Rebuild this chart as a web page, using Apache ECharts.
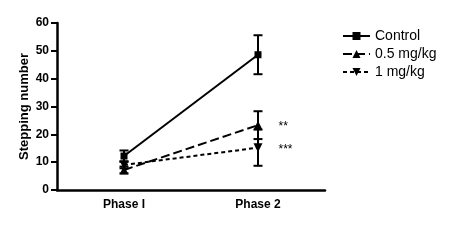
<!DOCTYPE html>
<html><head><meta charset="utf-8">
<script src="https://cdn.jsdelivr.net/npm/echarts@6/dist/echarts.min.js"></script>
<style>html,body{margin:0;padding:0;background:#fff}#c{width:450px;height:244px}</style>
</head><body><div id="c"></div>
<script>
const categories = ['Phase I', 'Phase 2'];
const controlMean = [12.2, 48.6];
const controlErr = [2.0, 7.0];
const lowMean = [7.2, 23.3];
const lowErr = [1.2, 5.0];
const highMean = [9.0, 15.2];
const highErr = [1.2, 6.5];
const yTicks = [0, 10, 20, 30, 40, 50, 60];
const sig = ['', '', '**', '***'];

const chart = echarts.init(document.getElementById('c'));
const font = 'Liberation Sans, Arial, sans-serif';

function errSeries(name, mean, err) {
  return {
    type: 'custom', name: name + ' err', silent: true, z: 1,
    data: mean.map((m, i) => [i, m - err[i], m + err[i]]),
    renderItem: function (params, api) {
      const lo = api.coord([api.value(0), api.value(1)]);
      const hi = api.coord([api.value(0), api.value(2)]);
      const w = 4.5;
      const st = { stroke: '#000', lineWidth: 2 };
      return { type: 'group', children: [
        { type: 'line', shape: { x1: hi[0], y1: hi[1], x2: lo[0], y2: lo[1] }, style: st },
        { type: 'line', shape: { x1: hi[0] - w, y1: hi[1], x2: hi[0] + w, y2: hi[1] }, style: st },
        { type: 'line', shape: { x1: lo[0] - w, y1: lo[1], x2: lo[0] + w, y2: lo[1] }, style: st }
      ]};
    }
  };
}

function withSig(mean, mark) {
  return mean.map((v, i) => i === 1 && mark ? {
    value: v,
    label: { show: true, formatter: mark, position: 'right', distance: 16, color: '#000', fontSize: 12, fontFamily: font, offset: [0, 2] }
  } : v);
}

chart.setOption({
  animation: false,
  grid: { left: 57, right: 125, top: 23, bottom: 54 },
  legend: {
    orient: 'vertical', left: 337, top: 24, itemGap: 4, itemWidth: 27, itemHeight: 10,
    textStyle: { color: '#000', fontSize: 14, fontFamily: font },
    data: ['Control', '0.5 mg/kg', '1 mg/kg']
  },
  xAxis: {
    type: 'category', data: categories, boundaryGap: true,
    axisLine: { lineStyle: { color: '#000', width: 2.5 } },
    axisTick: { alignWithLabel: true, length: 5, lineStyle: { width: 2 }, interval: 0 },
    axisLabel: { color: '#000', fontWeight: 'bold', fontSize: 12, fontFamily: font, margin: 9 }
  },
  yAxis: {
    type: 'value', min: 0, max: 60, interval: 10,
    name: 'Stepping number', nameLocation: 'middle', nameGap: 26, nameRotate: 90,
    nameMoveOverlap: false,
    nameTextStyle: { color: '#000', fontWeight: 'bold', fontSize: 13, fontFamily: font },
    axisLine: { show: true, lineStyle: { color: '#000', width: 2.5 } },
    axisTick: { show: true, length: 6, lineStyle: { width: 2 } },
    splitLine: { show: false },
    axisLabel: { color: '#000', fontWeight: 'bold', fontSize: 12, fontFamily: font, margin: 8,
      formatter: v => yTicks.includes(v) ? String(v) : '' }
  },
  series: [
    errSeries('Control', controlMean, controlErr),
    errSeries('0.5 mg/kg', lowMean, lowErr),
    errSeries('1 mg/kg', highMean, highErr),
    { name: 'Control', type: 'line', data: controlMean, symbol: 'rect', symbolSize: 7, z: 3,
      itemStyle: { color: '#000' }, lineStyle: { color: '#000', width: 2 } },
    { name: '0.5 mg/kg', type: 'line', data: withSig(lowMean, sig[2]), symbol: 'triangle', symbolSize: 9, z: 3,
      itemStyle: { color: '#000' }, lineStyle: { color: '#000', width: 2, type: [9, 4] } },
    { name: '1 mg/kg', type: 'line', data: withSig(highMean, sig[3]), symbol: 'triangle', symbolRotate: 180, symbolSize: 9, z: 3,
      itemStyle: { color: '#000' }, lineStyle: { color: '#000', width: 2, type: [4, 3] } }
  ]
});
</script></body></html>
